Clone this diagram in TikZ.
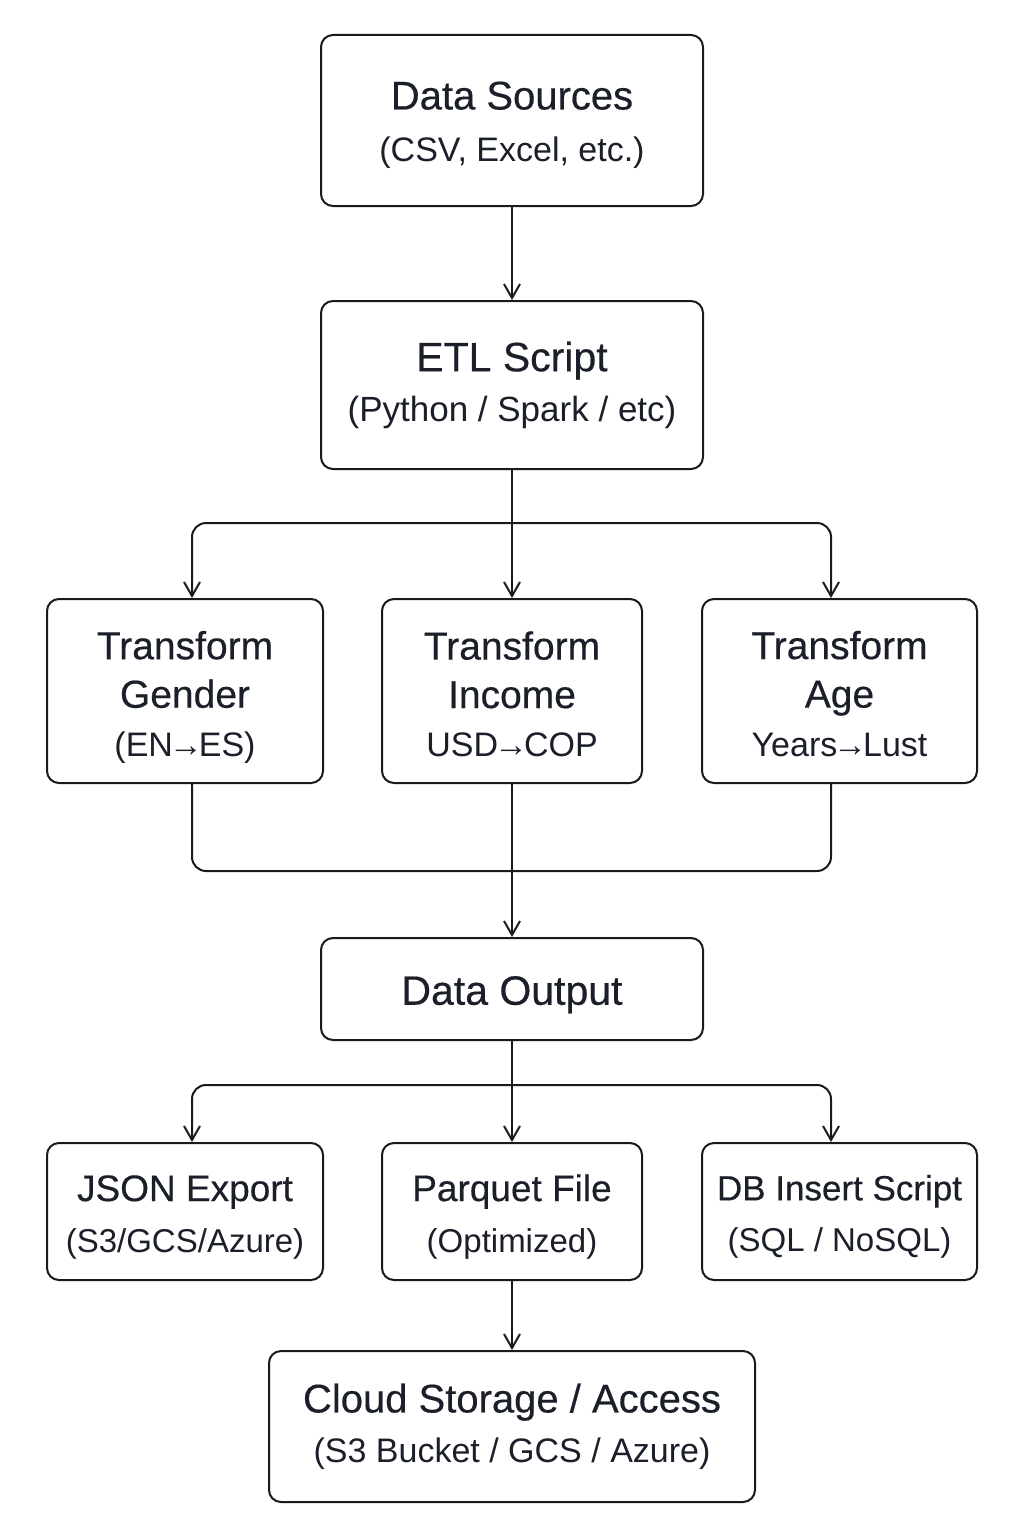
\documentclass[tikz,border=0pt]{standalone}
\usepackage{fontspec}
\setmainfont{Liberation Sans}
\newfontfamily\titlef[FakeBold=0.4]{Liberation Sans}
\usetikzlibrary{arrows.meta}
\definecolor{ink}{HTML}{1B1F2A}
\definecolor{linec}{HTML}{1A1A1A}
\newcommand\ttl[2][40]{{\titlef\fontsize{#1}{50}\selectfont #2}}
\newcommand\sbt[2][34]{{\fontsize{#1}{50}\selectfont #2}}
\newcommand\tp[1]{\rule{0pt}{#1}}
\newcommand\toarr{\kern-0.12em→\kern-0.12em}
\begin{document}
\begin{tikzpicture}[x=1pt,y=-1pt,
  box/.style={draw=linec, line width=2pt, rounded corners=12pt, inner sep=0pt,
    align=center, text=ink, fill=white, font=\fontsize{34}{50}\selectfont},
  conn/.style={draw=linec, line width=2pt, rounded corners=14pt},
  arr/.style={conn, -{Straight Barb[length=14pt,width=16pt]}},
  darr/.style={conn, {Straight Barb[length=14pt,width=16pt]}-{Straight Barb[length=14pt,width=16pt]}}
]
\useasboundingbox[fill=white] (0,0) rectangle (1024,1536);

\node[box, minimum width=382pt, minimum height=171pt, font=\fontsize{34}{52}\selectfont] (src) at (512,120.5)
  {\tp{37pt}\ttl{Data Sources}\\\sbt{(CSV, Excel, etc.)}};
\node[box, minimum width=382pt, minimum height=168pt] (etl) at (512,385)
  {\ttl[41]{ETL Script}\\\sbt[35]{(Python / Spark / etc)}};

\node[box, minimum width=276pt, minimum height=184pt, font=\fontsize{34}{48.5}\selectfont] (gen) at (185,691)
  {\tp{40.5pt}\ttl[39]{Transform}\\\ttl[39]{Gender}\\\sbt{(EN\toarr ES)}};
\node[box, minimum width=260pt, minimum height=184pt, font=\fontsize{34}{48.5}\selectfont] (inc) at (512,691)
  {\tp{34.5pt}\ttl[39]{Transform}\\\ttl[39]{Income}\\\sbt{USD\toarr COP}};
\node[box, minimum width=275pt, minimum height=184pt, font=\fontsize{34}{48.5}\selectfont] (age) at (839.5,691)
  {\tp{33.5pt}\ttl[39]{Transform}\\\ttl[39]{Age}\\\sbt{Years\toarr Lust}};

\node[box, minimum width=382pt, minimum height=102pt] (out) at (512,989)
  {\tp{40pt}\ttl[41]{Data Output}};

\node[box, minimum width=276pt, minimum height=137pt, font=\fontsize{33}{51}\selectfont] (json) at (185,1211.5)
  {\tp{37pt}\ttl[37]{JSON Export}\\\sbt[33]{(S3/GCS/Azure)}};
\node[box, minimum width=260pt, minimum height=137pt, font=\fontsize{33}{51}\selectfont] (par) at (512,1211.5)
  {\tp{37pt}\ttl[37]{Parquet File}\\\sbt[33]{(Optimized)}};
\node[box, minimum width=275pt, minimum height=137pt, font=\fontsize{33}{51}\selectfont] (db) at (839.5,1211.5)
  {\tp{35.5pt}\ttl[35]{DB Insert Script}\\\sbt[33]{(SQL / NoSQL)}};

\node[box, minimum width=486pt, minimum height=151pt] (cloud) at (512,1426.5)
  {\ttl{Cloud Storage / Access}\\\sbt{(S3 Bucket / GCS / Azure)}};

\coordinate (lx) at (192,0);
\coordinate (rx) at (831,0);
\coordinate (b1) at (512,523);
\coordinate (m1) at (512,871);
\coordinate (b2) at (512,1085);

\draw[arr] (src) -- (etl);
\draw[arr] (etl) -- (inc);
\draw[darr] (gen.north -| lx) |- (b1) -| (age.north -| rx);
\draw[conn] (gen.south -| lx) |- (m1) -| (age.south -| rx);
\draw[arr] (inc) -- (out);
\draw[arr] (out) -- (par);
\draw[darr] (json.north -| lx) |- (b2) -| (db.north -| rx);
\draw[arr] (par) -- (cloud);
\end{tikzpicture}
\end{document}
